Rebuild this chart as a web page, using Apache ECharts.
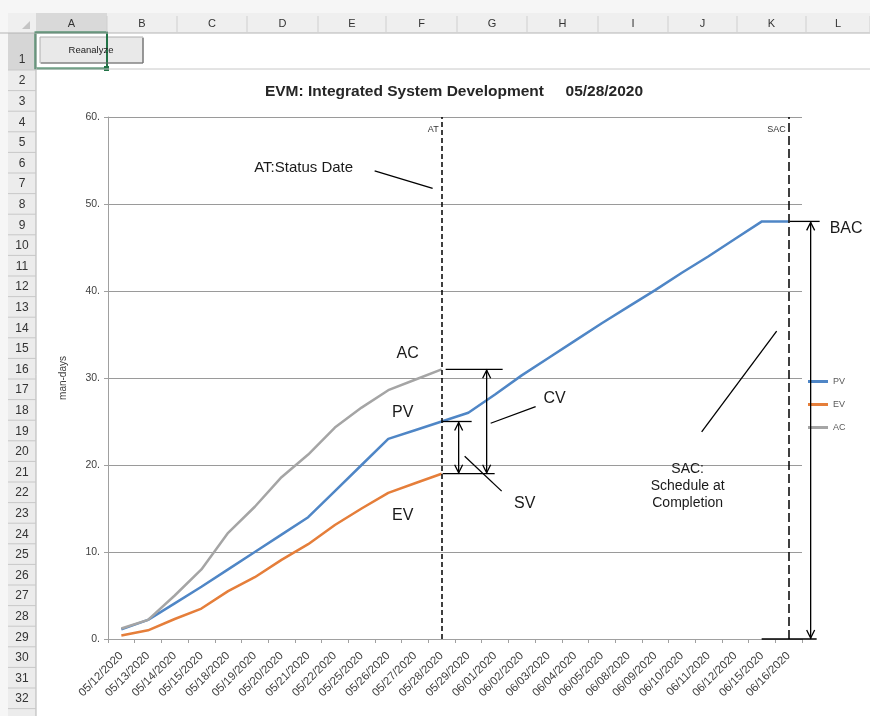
<!DOCTYPE html>
<html>
<head>
<meta charset="utf-8">
<title>EVM: Integrated System Development</title>
<script src="https://cdn.jsdelivr.net/npm/echarts@6.0.0/dist/echarts.min.js"></script>
<style>
  html, body { margin: 0; padding: 0; background: #fff; }
  #chart { width: 870px; height: 716px; }
</style>
</head>
<body>
<div id="chart"></div>
<script>
  // chart data
  var dates = ['05/12/2020', '05/13/2020', '05/14/2020', '05/15/2020', '05/18/2020', '05/19/2020',
    '05/20/2020', '05/21/2020', '05/22/2020', '05/25/2020', '05/26/2020', '05/27/2020', '05/28/2020',
    '05/29/2020', '06/01/2020', '06/02/2020', '06/03/2020', '06/04/2020', '06/05/2020', '06/08/2020',
    '06/09/2020', '06/10/2020', '06/11/2020', '06/12/2020', '06/15/2020', '06/16/2020'];
  var pv = [1.1, 2.2, 4.1, 6.0, 8.0, 10.0, 12.0, 14.0, 17.0, 20.0, 23.0, 24.0, 25.0,
    26.0, 28.1, 30.3, 32.3, 34.3, 36.3, 38.2, 40.1, 42.1, 44.0, 46.0, 48.0, 48.0];
  var ev = [0.4, 1.0, 2.3, 3.5, 5.5, 7.1, 9.1, 10.9, 13.1, 15.0, 16.8, 17.9, 19.0];
  var ac = [1.2, 2.2, 5.0, 8.0, 12.2, 15.2, 18.6, 21.2, 24.3, 26.6, 28.6, 29.8, 31.0];
  var yMin = 0, yMax = 60, yStep = 10;
  var statusDate = '05/28/2020';
  var completionDate = '06/16/2020';
  var bac = 48;

  // spreadsheet chrome
  var colLetters = ['A', 'B', 'C', 'D', 'E', 'F', 'G', 'H', 'I', 'J', 'K', 'L'];
  var colEdges = [36, 107, 177, 247, 318, 386, 457, 527, 598, 668, 737, 806, 870];
  var rowCount = 32;

  var FONT = 'Liberation Sans, Arial, sans-serif';
  var chart = echarts.init(document.getElementById('chart'));

  var option = {
    backgroundColor: '#fff',
    animation: false,
    title: {
      text: 'EVM: Integrated System Development     05/28/2020',
      left: 449, top: 79, textAlign: 'center',
      textStyle: { fontFamily: FONT, fontSize: 15.5, fontWeight: 'bold', color: '#262626' }
    },
    legend: {
      orient: 'vertical', left: 808, top: 377, padding: 0,
      itemWidth: 20, itemHeight: 3, itemGap: 14, icon: 'rect',
      textStyle: { fontFamily: FONT, fontSize: 9, color: '#595959' },
      data: ['PV', 'EV', 'AC']
    },
    grid: { left: 108, right: 68, top: 117, bottom: 77, containLabel: false },
    xAxis: {
      type: 'category', data: dates, boundaryGap: true,
      axisLine: { lineStyle: { color: '#a0a0a0', width: 1 } },
      axisTick: { show: true, length: 4, lineStyle: { color: '#a0a0a0' } },
      axisLabel: { rotate: 45, interval: 0, fontFamily: FONT, fontSize: 11.5, color: '#404040', margin: 15 },
      splitLine: { show: false }
    },
    yAxis: {
      type: 'value', min: yMin, max: yMax, interval: yStep,
      name: 'man-days', nameLocation: 'middle', nameGap: 40,
      nameTextStyle: { fontFamily: FONT, fontSize: 10, color: '#404040' },
      axisLine: { show: true, lineStyle: { color: '#a0a0a0' } },
      axisTick: { show: true, length: 4, lineStyle: { color: '#a0a0a0' } },
      axisLabel: { fontFamily: FONT, fontSize: 10.5, color: '#404040', margin: 8,
        formatter: function (v) { return v + '.'; } },
      splitLine: { lineStyle: { color: '#9a9a9a', width: 1 } }
    },
    series: [
      {
        name: 'PV', type: 'line', data: pv, showSymbol: false, symbol: 'none',
        lineStyle: { color: '#4f86c6', width: 2.5 }, itemStyle: { color: '#4f86c6' },
        markLine: {
          silent: true, symbol: 'none', label: { show: false },
          data: [
            { xAxis: statusDate, lineStyle: { color: '#000', width: 1.5, type: [5, 3] } },
            { xAxis: completionDate, lineStyle: { color: '#000', width: 1.5, type: [9, 4] } }
          ]
        }
      },
      {
        name: 'EV', type: 'line', data: ev, showSymbol: false, symbol: 'none',
        lineStyle: { color: '#e57e3a', width: 2.5 }, itemStyle: { color: '#e57e3a' }
      },
      {
        name: 'AC', type: 'line', data: ac, showSymbol: false, symbol: 'none',
        lineStyle: { color: '#a5a5a5', width: 2.5 }, itemStyle: { color: '#a5a5a5' }
      }
    ]
  };
  chart.setOption(option);

  // helpers into the chart's own scales
  function xc(cat) { return chart.convertToPixel({ xAxisIndex: 0, yAxisIndex: 0 }, [cat, 0])[0]; }
  function yv(v) { return chart.convertToPixel({ xAxisIndex: 0, yAxisIndex: 0 }, [dates[0], v])[1]; }

  var g = [];
  function line(x1, y1, x2, y2, color, w) {
    g.push({ type: 'line', z: 50, shape: { x1: x1, y1: y1, x2: x2, y2: y2 },
      style: { stroke: color || '#000', lineWidth: w || 1.3 } });
  }
  function text(x, y, str, size, align, extra) {
    var st = { text: str, x: x, y: y, font: (size || 15) + 'px ' + FONT, fill: '#1a1a1a',
      textAlign: align || 'center', textVerticalAlign: 'middle' };
    if (extra) for (var k in extra) st[k] = extra[k];
    g.push({ type: 'text', z: 50, style: st });
  }
  function rect(x, y, w, h, fill, stroke, lw) {
    g.push({ type: 'rect', z: 40, shape: { x: x, y: y, width: w, height: h },
      style: { fill: fill || 'none', stroke: stroke || 'none', lineWidth: lw || 1 } });
  }
  function dblArrow(x, yA, yB) {
    line(x, yA, x, yB);
    g.push({ type: 'polyline', z: 50, shape: { points: [[x - 4, yA + 9], [x, yA + 1], [x + 4, yA + 9]] },
      style: { stroke: '#000', lineWidth: 1.3, fill: 'none' } });
    g.push({ type: 'polyline', z: 50, shape: { points: [[x - 4, yB - 9], [x, yB - 1], [x + 4, yB - 9]] },
      style: { stroke: '#000', lineWidth: 1.3, fill: 'none' } });
  }

  // ---- spreadsheet frame ----
  rect(0, 0, 870, 13, '#f6f6f6');
  rect(0, 13, 870, 20, '#efefef');
  rect(0, 13, 8, 703, '#f6f6f6');
  rect(colEdges[0], 13, colEdges[1] - colEdges[0], 20, '#d9d9d9');
  line(0, 33, 870, 33, '#b4b4b4', 1);
  for (var c = 0; c < colLetters.length; c++) {
    var cx = (colEdges[c] + colEdges[c + 1]) / 2;
    text(cx, 24, colLetters[c], 11, 'center', { fill: '#333' });
    line(colEdges[c + 1], 16, colEdges[c + 1], 32, '#cfcfcf', 1);
  }
  g.push({ type: 'polygon', z: 45, shape: { points: [[30, 21], [30, 29], [22, 29]] }, style: { fill: '#c4c4c4' } });
  rect(8, 33, 28, 683, '#ececec');
  rect(8, 33, 28, 37, '#d6d6d6');
  line(36, 33, 36, 716, '#b4b4b4', 1);
  text(22, 60, '1', 12, 'center', { fill: '#333' });
  line(8, 70, 36, 70, '#c8c8c8', 1);
  for (var r = 2; r <= rowCount; r++) {
    var rowTop = 70 + (r - 2) * 20.6;
    text(22, rowTop + 11, String(r), 12, 'center', { fill: '#333' });
    line(8, rowTop + 20.6, 36, rowTop + 20.6, '#c8c8c8', 1);
  }
  line(36, 69, 870, 69, '#c8c8c8', 1);
  // Reanalyze button and active cell
  rect(40, 37, 103, 26, '#e9e9e9', '#b0b0b0', 1);
  line(41, 63, 143, 63, '#6e6e6e', 1.2);
  line(143, 38, 143, 63, '#6e6e6e', 1.2);
  text(91, 50, 'Reanalyze', 9.5, 'center', { fill: '#222' });
  rect(35.5, 32.5, 71.5, 36, 'none', '#217346', 2);
  rect(104, 66, 5, 5, '#217346');

  // ---- annotations tied to axis values ----
  var xAT = xc(statusDate), xSAC = xc(completionDate);
  var yTop = yv(yMax), yZero = yv(0);
  var last = ev.length - 1;

  text(xAT - 3, yTop + 13, 'AT', 9, 'right', { fill: '#333' });
  text(xSAC - 3, yTop + 13, 'SAC', 9, 'right', { fill: '#333' });

  text(xAT - 138, yv(54.2), 'AT:Status Date', 15);
  line(xAT - 67, yv(53.8), xAT - 9, yv(51.8));

  text(xAT - 34, yv(32.8), 'AC', 16);
  text(xAT - 39, yv(26.0), 'PV', 16);
  text(xAT - 39, yv(14.2), 'EV', 16);

  // SV / CV
  line(xAT + 1, yv(pv[last]), xAT + 30, yv(pv[last]));
  line(xAT + 1, yv(ev[last]), xAT + 53, yv(ev[last]));
  line(xAT + 4, yv(ac[last]), xAT + 61, yv(ac[last]));
  dblArrow(xAT + 17, yv(pv[last]), yv(ev[last]));
  dblArrow(xAT + 45, yv(ac[last]), yv(ev[last]));
  text(xAT + 113, yv(27.6), 'CV', 16);
  line(xAT + 49, yv(24.8), xAT + 94, yv(26.7));
  text(xAT + 83, yv(15.6), 'SV', 16);
  line(xAT + 23, yv(21.0), xAT + 60, yv(17.0));

  // BAC
  line(xSAC + 1, yv(bac), xSAC + 31, yv(bac));
  dblArrow(xSAC + 22, yv(bac), yZero);
  line(xSAC - 27, yZero, xSAC + 28, yZero);
  text(xSAC + 41, yv(47.2), 'BAC', 16, 'left');

  // SAC note
  text(xSAC - 101, yv(17.6), 'SAC:\nSchedule at\nCompletion', 14, 'center', { lineHeight: 17 });
  line(xSAC - 87, yv(23.8), xSAC - 12, yv(35.4));

  chart.setOption({ graphic: g });
</script>
</body>
</html>
